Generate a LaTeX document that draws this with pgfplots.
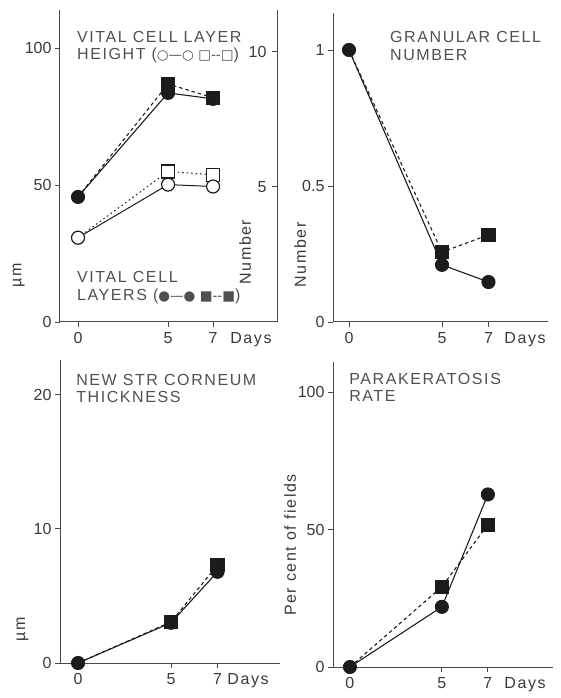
\documentclass[border=0pt]{standalone}
\usepackage{fontspec}
\setmainfont{Liberation Sans}
\newfontfamily\titlef[LetterSpace=10]{Liberation Sans}
\newfontfamily\symf{DejaVu Sans}
\usepackage{pgfplots}
\pgfplotsset{compat=1.18}
\definecolor{txt}{HTML}{3A3A3A}
\definecolor{ttc}{HTML}{505050}
\definecolor{axc}{HTML}{4A4A4A}
\definecolor{dat}{HTML}{1C1C1C}
\newcommand\tfont{\fontsize{16}{17.5}\selectfont\titlef}
\newcommand\kfont{\fontsize{16}{18}\selectfont}
\newcommand\sy[1]{{\fontsize{13.5}{17}\selectfont\symf #1}}
\tikzset{ttl/.style={anchor=north west, inner sep=0pt, align=left, text=ttc, font=\tfont}}
\pgfplotsset{
 panel/.style={scale only axis, anchor=south west, axis x line*=bottom, axis y line*=left,
   axis line style={-, line width=1pt, draw=axc}, tick align=outside, major tick length=5pt,
   tick style={line width=0.9pt, draw=axc}, ticklabel style={font=\kfont, text=txt},
   xticklabel style={yshift=-2pt},
   /pgf/number format/assume math mode=true, xtick={0,5,7.5}, xticklabels={0,5,7},
   ymin=0, clip=false, label style={font=\tfont, text=txt}, xlabel={Days}},
 fullc/.style={draw=dat, line width=1.1pt, mark=*, mark size=6.5pt, mark options={solid, fill=dat, draw=dat}},
 fulls/.style={draw=dat, line width=1.1pt, dash pattern=on 3.5pt off 3pt, mark=square*, mark size=6.5pt, mark options={solid, fill=dat, draw=dat}, mark indices={2,3}},
 openc/.style={draw=dat, line width=1pt, mark=*, mark size=6.5pt, mark options={solid, fill=white, draw=dat, line width=1.2pt}},
 opens/.style={draw=dat, line width=1pt, dash pattern=on 1.5pt off 3pt, mark=square*, mark size=6.5pt, mark options={solid, fill=white, draw=dat, line width=1.2pt}, mark indices={2,3}},
}
\begin{document}
\begin{tikzpicture}
\useasboundingbox (0,0) rectangle (560pt,698pt);
% ---------- top left: vital cell layer height (um) ----------
\begin{axis}[panel, at={(60pt,376pt)}, width=217pt, height=312pt,
  xmin=-1, xmax=11.05, ymax=114, ytick={0,50,100},
  ylabel={µm}, ylabel style={at={(rel axis cs:-0.19,0.15)}, anchor=center},
  xlabel style={at={(rel axis cs:0.88,0)}, anchor=north, yshift=-7pt}]
\addplot[opens] coordinates {(0,30.8) (5,55) (7.5,53.8)};
\addplot[openc] coordinates {(0,30.8) (5,50.2) (7.5,49.5)};
\node[ttl] at (rel axis cs:0.078,0.933) {VITAL CELL LAYER\\HEIGHT (\sy{○—○ □-{}-□})};
\node[ttl] at (rel axis cs:0.078,0.163) {VITAL CELL\\LAYERS (\sy{●—● ■-{}-■})};
\end{axis}
% ---------- top left: vital cell layers (number, right axis) ----------
\begin{axis}[scale only axis, anchor=south west, at={(60pt,376pt)}, width=217pt, height=312pt,
  xmin=-1, xmax=11.05, ymin=0, ymax=11.55, axis x line=none, axis y line*=right,
  axis line style={-, line width=1pt, draw=axc}, tick align=inside, major tick length=5pt,
  tick style={line width=0.9pt, draw=axc}, ytick={5,10},
  yticklabel style={anchor=east, xshift=-7pt, font=\kfont, text=txt},
  /pgf/number format/assume math mode=true, clip=false,
  ylabel={Number}, ylabel style={at={(rel axis cs:0.853,0.224)}, anchor=center, font=\tfont, text=txt}]
\addplot[fulls] coordinates {(0,4.63) (5,8.81) (7.5,8.3)};
\addplot[fullc] coordinates {(0,4.63) (5,8.48) (7.5,8.26)};
\end{axis}
% ---------- top right: granular cell number ----------
\begin{axis}[panel, at={(333pt,376pt)}, width=215pt, height=309pt,
  xmin=-0.86, xmax=10.7, ymax=1.136, ytick={0,0.5,1}, yticklabels={0,0.5,1},
  ylabel={Number}, ylabel style={at={(rel axis cs:-0.153,0.217)}, anchor=center},
  xlabel style={at={(rel axis cs:0.893,0)}, anchor=north, yshift=-7pt}]
\addplot[fulls] coordinates {(0,1) (5,0.257) (7.5,0.32)};
\addplot[fullc] coordinates {(0,1) (5,0.21) (7.5,0.147)};
\node[ttl] at (rel axis cs:0.265,0.94) {GRANULAR CELL\\NUMBER};
\end{axis}
% ---------- bottom left: new stratum corneum thickness ----------
\begin{axis}[panel, at={(60pt,35pt)}, width=220pt, height=303pt,
  xmin=-0.97, xmax=10.86, ymax=22.6, ytick={0,10,20},
  ylabel={µm}, ylabel style={at={(rel axis cs:-0.17,0.11)}, anchor=center},
  xlabel style={at={(rel axis cs:0.855,0)}, anchor=north, yshift=-7pt}]
\addplot[fullc] coordinates {(0,0) (5,3.0) (7.5,6.8)};
\addplot[fulls] coordinates {(0,0) (5,3.06) (7.5,7.3)};
\node[ttl] at (rel axis cs:0.073,0.954) {NEW STR CORNEUM\\THICKNESS};
\end{axis}
% ---------- bottom right: parakeratosis rate ----------
\begin{axis}[panel, at={(333pt,31pt)}, width=220pt, height=305pt,
  xmin=-0.92, xmax=11.04, ymax=111, ytick={0,50,100},
  ylabel={Per cent of fields}, ylabel style={at={(rel axis cs:-0.195,0.40)}, anchor=center},
  xlabel style={at={(rel axis cs:0.873,0)}, anchor=north, yshift=-7pt}]
\addplot[fulls] coordinates {(0,0) (5,29.2) (7.5,51.8)};
\addplot[fullc] coordinates {(0,0) (5,21.9) (7.5,62.8)};
\node[ttl] at (rel axis cs:0.073,0.964) {PARAKERATOSIS\\RATE};
\end{axis}
\end{tikzpicture}
\end{document}
